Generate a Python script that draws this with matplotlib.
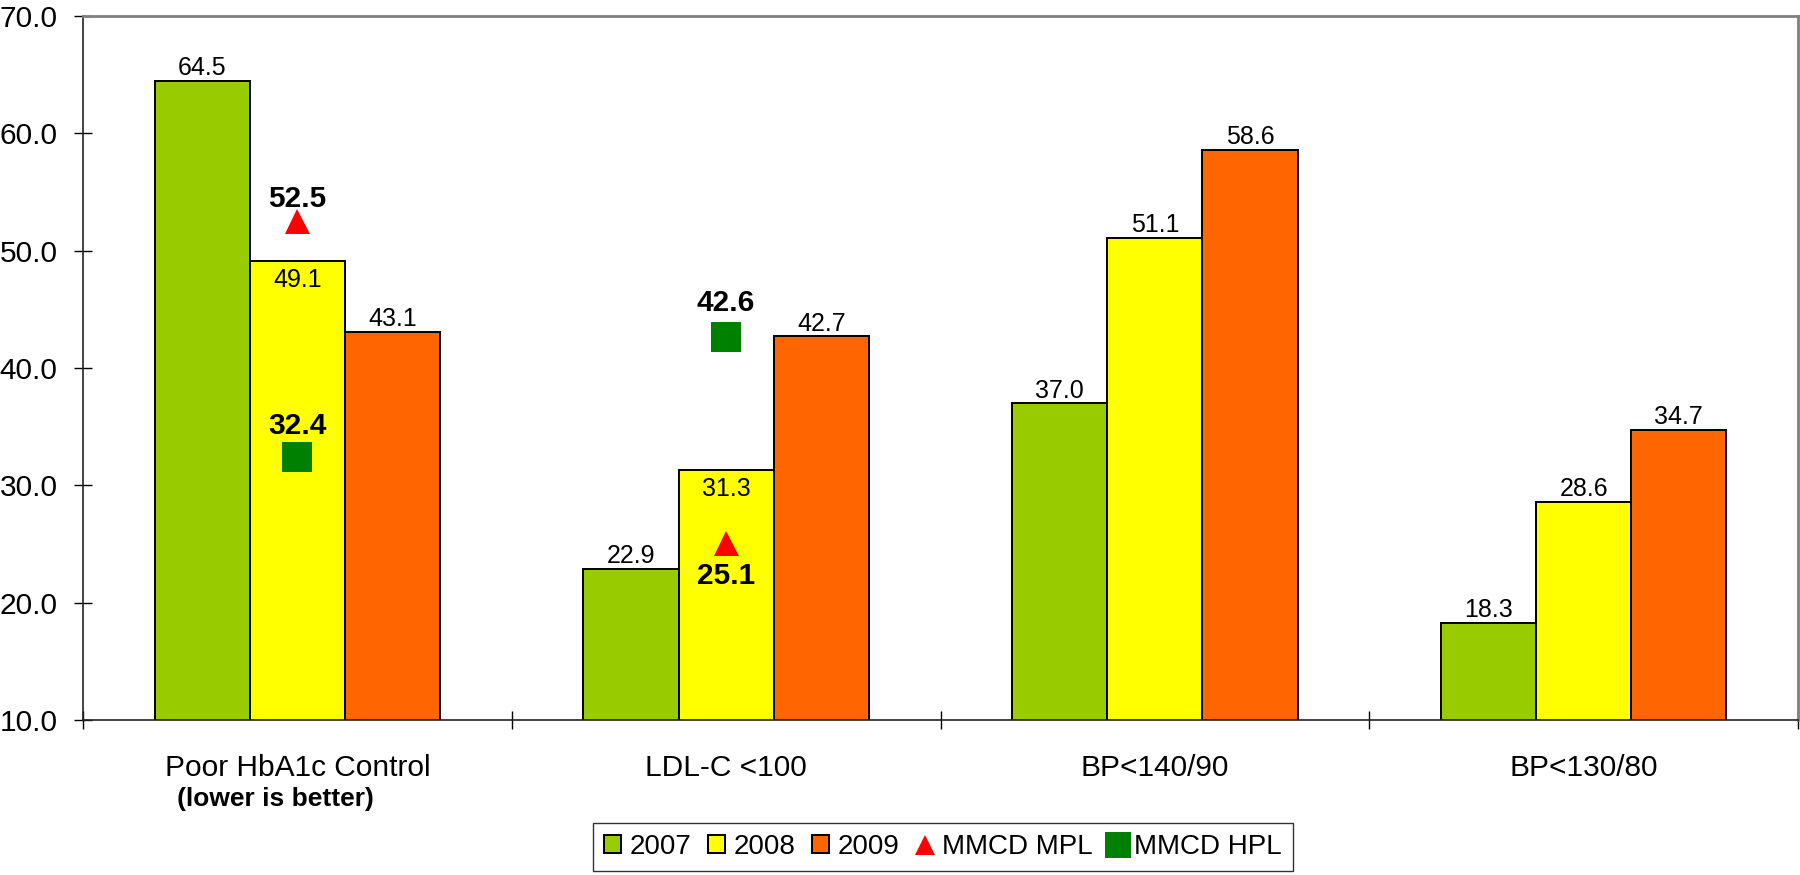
import numpy as np
import matplotlib
matplotlib.use("Agg")
import matplotlib.pyplot as plt
from matplotlib.patches import Patch
from matplotlib.lines import Line2D

plt.rcParams["font.family"] = ["Liberation Sans", "DejaVu Sans"]

# data
categories = ["Poor HbA1c Control", "LDL-C <100", "BP<140/90", "BP<130/80"]
years = ["2007", "2008", "2009"]
vals_2007 = [64.5, 22.9, 37.0, 18.3]
vals_2008 = [49.1, 31.3, 51.1, 28.6]
vals_2009 = [43.1, 42.7, 58.6, 34.7]
mpl_cats = [0, 1]
mpl_vals = [52.5, 25.1]
hpl_cats = [0, 1]
hpl_vals = [32.4, 42.6]

colors = ["#99CC00", "#FFFF00", "#FF6600"]
W, H, DPI = 18, 8.75, 100

fig = plt.figure(figsize=(W, H), dpi=DPI)
ax = fig.add_axes([83 / 1800, 1 - 720 / 875, (1798 - 83) / 1800, (720 - 16) / 875])

x = np.arange(len(categories))
bw = 0.222
series = [vals_2007, vals_2008, vals_2009]
for j, vals in enumerate(series):
    xs = x + (j - 1) * bw
    ax.bar(xs, vals, width=bw, bottom=0, color=colors[j], edgecolor="black",
           linewidth=1.4, zorder=2)
    for k, (xi, v) in enumerate(zip(xs, vals)):
        # 2008 labels sit inside the bar where the MMCD markers are
        if j == 1 and k in mpl_cats:
            ax.annotate(f"{v:.1f}", (xi, v), xytext=(0, -5), textcoords="offset points",
                        ha="center", va="top", fontsize=18, zorder=4)
        else:
            ax.annotate(f"{v:.1f}", (xi, v), xytext=(0, 0.5), textcoords="offset points",
                        ha="center", va="bottom", fontsize=18, zorder=4)

# MMCD benchmark markers, on the 2008 bar
mx = np.array(mpl_cats) + 0.0
hx = np.array(hpl_cats) + 0.0
ax.plot(mx, mpl_vals, ls="none", marker="^", ms=18, color="#FF0000", mew=0, zorder=3)
ax.plot(hx, hpl_vals, ls="none", marker="s", ms=21.5, color="#008000", mew=0, zorder=3)
mpl_off = [(0, 10), (0, -14)]
for xi, v, off in zip(mx, mpl_vals, mpl_off):
    ax.annotate(f"{v:.1f}", (xi, v), xytext=off, textcoords="offset points",
                ha="center", va="baseline" if off[1] > 0 else "top",
                fontsize=21.5, fontweight="bold", zorder=4)
hpl_off = [17, 19]
for xi, v, dy in zip(hx, hpl_vals, hpl_off):
    ax.annotate(f"{v:.1f}", (xi, v), xytext=(0, dy), textcoords="offset points",
                ha="center", va="baseline", fontsize=21.5, fontweight="bold", zorder=4)

ax.set_ylim(10, 70)
ax.set_xlim(-0.5, len(categories) - 0.5)
ax.set_yticks(np.arange(10, 71, 10))
ax.set_yticklabels([f"{t:.1f}" for t in np.arange(10, 71, 10)], fontsize=21.5)
ax.tick_params(axis="y", direction="inout", length=13.5, width=1, pad=11.5)

ax.set_xticks(np.arange(-0.5, len(categories), 1.0))
ax.set_xticklabels([])
ax.tick_params(axis="x", which="major", direction="inout", length=13.5, width=1)
ax.set_xticks(x, labels=categories, minor=True)
ax.tick_params(axis="x", which="minor", length=0, pad=24.5, labelsize=21.5)

ax.annotate("(lower is better)", (0, 0), xycoords=("data", "axes fraction"),
            xytext=(-16, -48), textcoords="offset points", ha="center", va="top",
            fontsize=19, fontweight="bold")

for s in ["top", "right"]:
    ax.spines[s].set_color("#808080")
    ax.spines[s].set_linewidth(2)
for s in ["left", "bottom"]:
    ax.spines[s].set_color("#222222")
    ax.spines[s].set_linewidth(1.2)

handles = [Patch(facecolor=c, edgecolor="black", linewidth=1.4) for c in colors]
handles += [
    Line2D([], [], ls="none", marker="^", ms=15, color="#FF0000", mew=0),
    Line2D([], [], ls="none", marker="s", ms=19, color="#008000", mew=0),
]
labels = years + ["MMCD MPL", "MMCD HPL"]
leg = fig.legend(handles, labels, loc="upper center", bbox_to_anchor=(943 / 1800, 1 - 823 / 875),
                 ncol=5, fontsize=20, frameon=True, fancybox=False, edgecolor="black",
                 handlelength=0.62, handleheight=0.62, handletextpad=0.3,
                 columnspacing=0.6, borderpad=0.4, borderaxespad=0)
leg.get_frame().set_linewidth(1)

fig.savefig("out.png", dpi=DPI)
